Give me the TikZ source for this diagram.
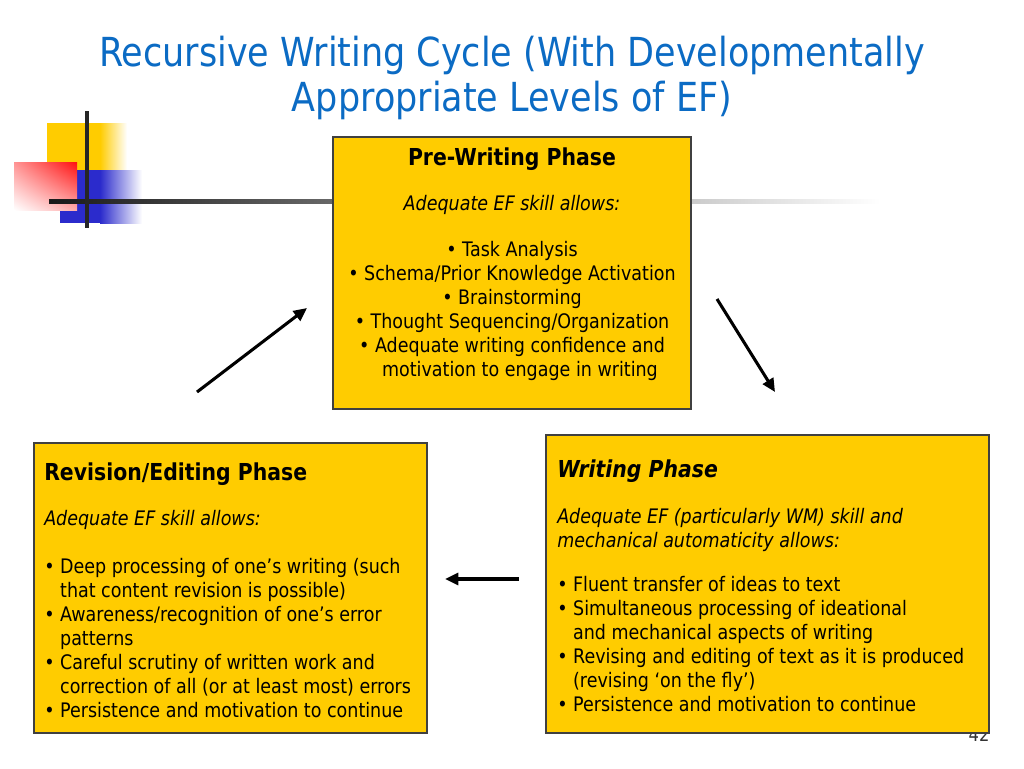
\documentclass[tikz,border=0pt]{standalone}
\usepackage{fontspec}
\setmainfont{DejaVu Sans}[FakeStretch=0.875]
\usetikzlibrary{arrows.meta, shadings}
\definecolor{slideblue}{HTML}{0B6BC4}
\definecolor{phasegold}{HTML}{FFCC00}
\definecolor{decoyellow}{HTML}{FFCC00}
\definecolor{decored}{HTML}{FF1010}
\definecolor{decoblue}{HTML}{2B2BCC}
\tikzset{
  phasebox/.style={draw=black!75, fill=phasegold, line width=0.8pt, inner sep=0pt},
  phasetext/.style={inner sep=0pt, font=\fontsize{15}{18}\selectfont},
  titletext/.style={text=slideblue, align=center, inner sep=0pt, font=\fontsize{30}{33.75}\selectfont},
  cycleline/.style={-{Triangle[length=10pt, width=9pt]}, line width=2.3pt}
}
\newcommand{\hang}{\hphantom{• }}
\newcommand{\phasehead}[1]{{\fontsize{17.5}{18}\selectfont\bfseries #1}}

\begin{document}
\begin{tikzpicture}[x=0.75pt, y=-0.75pt]
  \useasboundingbox[fill=white] (0,0) rectangle (1024,768);

  % corner decoration
  \fill[decoyellow] (47,123) rectangle (100,176);
  \shade[left color=decoyellow, right color=white] (100,123) rectangle (127,176);
  \fill[decoblue] (60,170) rectangle (100,223);
  \shade[left color=decoblue, right color=white] (100,170) rectangle (142,223);
  \shade[upper left=decored!45!white, upper right=decored,
         lower left=white, lower right=decored!35!white] (14,162) rectangle (77,210);
  \shade[left color=black!90, middle color=black!45, right color=white] (49,199) rectangle (880,203.5);
  \draw[line width=2.3pt, black!85] (87,111) -- (87,228);

  \node[titletext] (title) at (512,78)
    {Recursive Writing Cycle (With Developmentally\\ Appropriate Levels of EF)};

  \node[phasetext, anchor=base, text=black!80, font=\fontsize{14}{14}\selectfont] (pagenum) at (979,741) {42};

  \node[phasebox, minimum width=268.5pt, minimum height=204pt] (prebox) at (512,273) {};
  \node[phasebox, minimum width=294.75pt, minimum height=217.5pt] (revbox) at (230.5,588) {};
  \node[phasebox, minimum width=332.25pt, minimum height=223.5pt] (wribox) at (767.5,584) {};

  \node[phasetext, anchor=north, align=center] (pretext) at (512,147)
    {\phasehead{Pre-Writing Phase}\\[15.75pt]
     \textit{Adequate EF skill allows:}\\[16.5pt]
     • Task Analysis\\
     • Schema/Prior Knowledge Activation\\
     • Brainstorming\\
     • Thought Sequencing/Organization\\
     • Adequate writing confidence and\\
     \hphantom{•} motivation to engage in writing};

  \node[phasetext, anchor=north west, align=left] (revtext) at (44,462)
    {\phasehead{Revision/Editing Phase}\\[16pt]
     \textit{Adequate EF skill allows:}\\[18pt]
     • Deep processing of one’s writing (such\\
     \hang that content revision is possible)\\
     • Awareness/recognition of one’s error\\
     \hang patterns\\
     • Careful scrutiny of written work and\\
     \hang correction of all (or at least most) errors\\
     • Persistence and motivation to continue};

  \node[phasetext, anchor=north west, align=left] (writext) at (557,459)
    {\phasehead{\itshape Writing Phase}\\[16.5pt]
     \textit{Adequate EF (particularly WM) skill and}\\
     \textit{mechanical automaticity allows:}\\[15pt]
     • Fluent transfer of ideas to text\\
     • Simultaneous processing of ideational\\
     \hang and mechanical aspects of writing\\
     • Revising and editing of text as it is produced\\
     \hang (revising ‘on the fly’)\\
     • Persistence and motivation to continue};

  \coordinate (r2p-tail) at (197,392);
  \coordinate (r2p-head) at (307,308);
  \coordinate (p2w-tail) at (717,299);
  \coordinate (p2w-head) at (775,392);
  \coordinate (w2r-tail) at (519,579);
  \coordinate (w2r-head) at (445,579);

  \draw[cycleline] (r2p-tail) -- (r2p-head);
  \draw[cycleline] (p2w-tail) -- (p2w-head);
  \draw[cycleline] (w2r-tail) -- (w2r-head);
\end{tikzpicture}
\end{document}
